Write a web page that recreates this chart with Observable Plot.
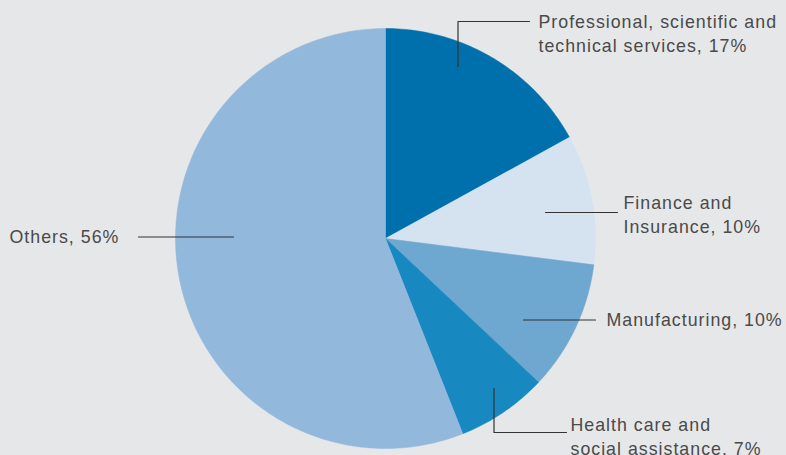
<!DOCTYPE html>
<html>
<head>
<meta charset="utf-8">
<script src="https://cdn.jsdelivr.net/npm/d3@7"></script>
<script src="https://cdn.jsdelivr.net/npm/@observablehq/plot@0.6"></script>
<style>
  html, body { margin: 0; padding: 0; background: #e6e7e9; }
  #chart { width: 786px; height: 455px; overflow: hidden; }
</style>
</head>
<body>
<div id="chart"></div>
<script>
// ---- Data ----
const categories = [
  "Professional, scientific and technical services",
  "Finance and Insurance",
  "Manufacturing",
  "Health care and social assistance",
  "Others"
];
const shares = [17, 10, 10, 7, 56];
const labels = [
  "Professional, scientific and\ntechnical services, 17%",
  "Finance and\nInsurance, 10%",
  "Manufacturing, 10%",
  "Health care and\nsocial assistance, 7%",
  "Others, 56%"
];
const colors = ["#0070ad", "#d5e3f1", "#6ea7d0", "#1789c0", "#92b8dc"];

// ---- Layout (pixels) ----
const W = 786, H = 455;
const cx = 385, cy = 238, r = 210;

// slice polygons built from shares
const total = d3.sum(shares);
const slices = [];
let acc = 0;
shares.forEach((v, i) => {
  const a0 = acc / total * 2 * Math.PI;
  acc += v;
  const a1 = acc / total * 2 * Math.PI;
  const n = Math.max(2, Math.ceil((a1 - a0) / (2 * Math.PI) * 400));
  slices.push({cat: categories[i], x: cx, y: cy});
  for (let k = 0; k <= n; k++) {
    const a = a0 + (a1 - a0) * k / n;
    slices.push({cat: categories[i], x: cx + r * Math.sin(a), y: cy - r * Math.cos(a)});
  }
  slices.push({cat: categories[i], x: cx, y: cy});
});

// leader lines and label anchors (layout)
const leaders = [
  {cat: 0, pts: [[457.5, 66], [457.5, 21], [529, 21]]},
  {cat: 1, pts: [[545, 212], [617, 212]]},
  {cat: 2, pts: [[523, 319.5], [595, 319.5]]},
  {cat: 3, pts: [[493.5, 388], [493.5, 432], [566, 432]]},
  {cat: 4, pts: [[138, 236.5], [233, 236.5]]}
];
const leaderPts = leaders.flatMap(l => l.pts.map(([x, y]) => ({cat: l.cat, x, y})));
const labelPos = [
  {x: 538, y: 32},
  {x: 623, y: 213},
  {x: 606, y: 318},
  {x: 570, y: 435},
  {x: 9, y: 234.5}
];
const labelData = labels.map((t, i) => ({text: t, ...labelPos[i]}));

const chart = Plot.plot({
  width: W,
  height: H,
  margin: 0,
  style: {background: "#e6e7e9", fontFamily: "'Liberation Sans', Arial, sans-serif", letterSpacing: "1px"},
  x: {domain: [0, W], range: [0, W], axis: null},
  y: {domain: [0, H], range: [0, H], axis: null},
  color: {domain: categories, range: colors},
  marks: [
    Plot.line(slices, {x: "x", y: "y", z: "cat", fill: "cat", stroke: "cat", strokeWidth: 0.5, curve: "linear"}),
    Plot.line(leaderPts, {x: "x", y: "y", z: "cat", stroke: "#333333", strokeWidth: 1.2}),
    Plot.text(labelData, {x: "x", y: "y", text: "text", textAnchor: "start", lineAnchor: "middle",
      lineHeight: 1.33, fontSize: 17.8, fill: "#4a4a4a"})
  ]
});
document.getElementById("chart").appendChild(chart);
</script>
</body>
</html>
